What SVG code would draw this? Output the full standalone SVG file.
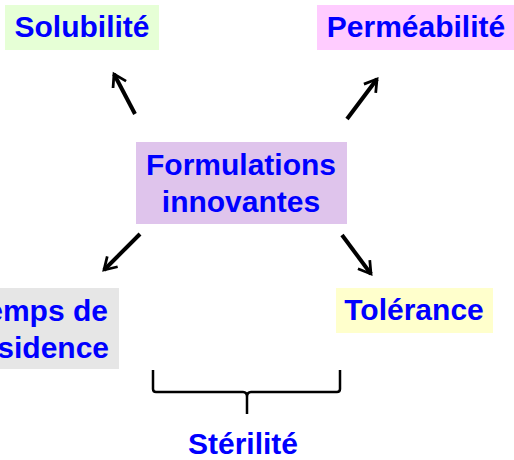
<svg xmlns="http://www.w3.org/2000/svg" width="514" height="460" viewBox="0 0 514 460">
  <style>
    .lbl { font-family: "Liberation Sans", Arial, sans-serif; font-weight: bold; font-size: 30px; fill: #0000ff; }
    .arrow { stroke: #000; stroke-width: 4; fill: none; stroke-linecap: butt; marker-end: url(#head); }
    .brace { stroke: #000; stroke-width: 2.5; fill: none; }
  </style>
  <defs>
    <marker id="head" viewBox="0 0 10 10" refX="8" refY="5" markerWidth="4.6" markerHeight="4.6" orient="auto" markerUnits="strokeWidth">
      <path d="M1.5,1 L8,5 L1.5,9" fill="none" stroke="#000" stroke-width="1.5" stroke-linejoin="miter"/>
    </marker>
  </defs>
  <rect width="514" height="460" fill="#fff"/>

  <g id="solubilite">
    <rect x="5" y="5" width="154" height="45" fill="#e6ffd6"/>
    <text class="lbl" x="82" y="37" text-anchor="middle">Solubilité</text>
  </g>
  <g id="permeabilite">
    <rect x="317" y="5" width="197" height="45" fill="#ffccff"/>
    <text class="lbl" x="416" y="37" text-anchor="middle">Perméabilité</text>
  </g>
  <g id="formulations">
    <rect x="136" y="142" width="211" height="82" fill="#dfc4ec"/>
    <text class="lbl" x="241" y="175" text-anchor="middle">Formulations</text>
    <text class="lbl" x="241" y="212" text-anchor="middle">innovantes</text>
  </g>
  <g id="temps">
    <rect x="-60" y="288" width="179" height="81" fill="#e6e6e6"/>
    <text class="lbl" x="39" y="321" text-anchor="middle">Temps de</text>
    <text class="lbl" x="39" y="358" text-anchor="middle">résidence</text>
  </g>
  <g id="tolerance">
    <rect x="336" y="288" width="157" height="45" fill="#ffffcc"/>
    <text class="lbl" x="414" y="320" text-anchor="middle">Tolérance</text>
  </g>
  <g id="sterilite">
    <text class="lbl" x="243" y="454" text-anchor="middle">Stérilité</text>
  </g>

  <g id="connectors">
    <line class="arrow" x1="135" y1="114" x2="114" y2="74"/>
    <line class="arrow" x1="347" y1="119" x2="377" y2="79"/>
    <line class="arrow" x1="140" y1="234" x2="104" y2="270"/>
    <line class="arrow" x1="342" y1="235" x2="371" y2="274"/>
    <path class="brace" d="M153,370 L153,389 Q153,392 156,392 L243,392 Q247,392 247,397 L247,414 M247,397 Q247,392 251,392 L337,392 Q340,392 340,389 L340,370"/>
  </g>
</svg>
